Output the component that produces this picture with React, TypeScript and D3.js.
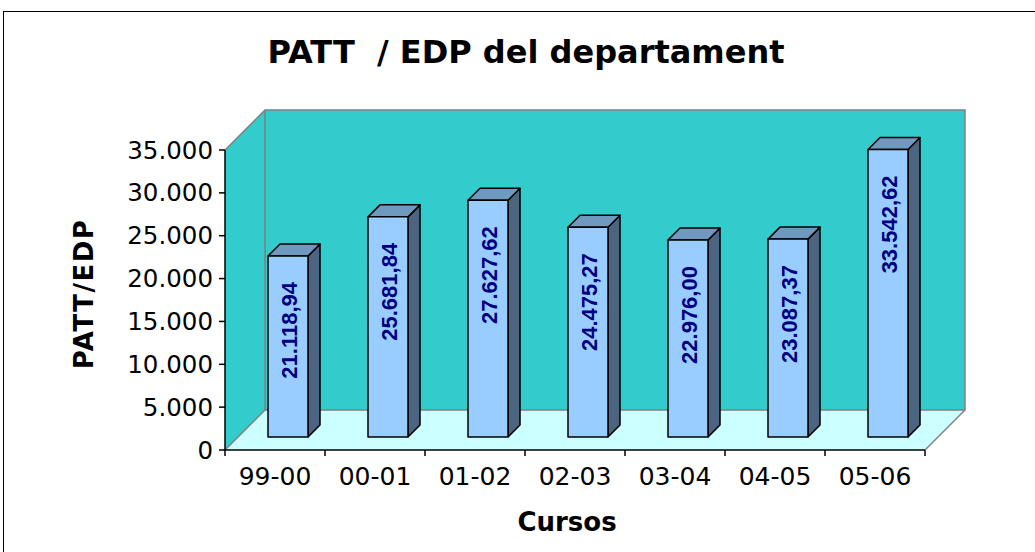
import React from "react";
import * as d3 from "d3";

const categories = ["99-00", "00-01", "01-02", "02-03", "03-04", "04-05", "05-06"];
const values = [21118.94, 25681.84, 27627.62, 24475.27, 22976.0, 23087.37, 33542.62];
const yTicks = [0, 5000, 10000, 15000, 20000, 25000, 30000, 35000];
const titleText = "PATT  / EDP del departament";
const yTitle = "PATT/EDP";
const xTitle = "Cursos";

const locale = d3.formatLocale({ decimal: ",", thousands: ".", grouping: [3], currency: ["", ""] });
const fmtTick = locale.format(",.0f");
const fmtVal = locale.format(",.2f");

export default function App() {
  const W = 1035, H = 552;
  const x0 = 225, x1 = 925, yBottom = 450, yTop = 150;
  const D = 40; // wall depth
  const barFront = 13, barDepth = 12, barW = 40;
  const x = d3.scaleBand<string>().domain(categories).range([x0, x1]);
  const y = d3.scaleLinear().domain([0, 35000]).range([yBottom, yTop]);
  const font = "'DejaVu Sans', Verdana, sans-serif";
  const gray = "#808080";

  return (
    <svg width={W} height={H} style={{ position: "absolute", left: 0, top: 0, background: "#fff" }}>
      <rect x={3.5} y={11.5} width={1040} height={560} fill="#fff" stroke="#000" strokeWidth={1} />
      <text x={526} y={63} textAnchor="middle" fontFamily={font} fontWeight="bold" fontSize={32} style={{ whiteSpace: "pre" }}>{titleText}</text>

      {/* walls */}
      <polygon points={`${x0 + D},${y(35000) - D} ${x1 + D},${y(35000) - D} ${x1 + D},${yBottom - D} ${x0 + D},${yBottom - D}`} fill="#33CCCC" />
      <polygon points={`${x0},${y(35000)} ${x0 + D},${y(35000) - D} ${x0 + D},${yBottom - D} ${x0},${yBottom}`} fill="#33CCCC" />
      <polygon points={`${x0},${yBottom} ${x0 + D},${yBottom - D} ${x1 + D},${yBottom - D} ${x1},${yBottom}`} fill="#CCFFFF" />
      <g stroke={gray} strokeWidth={1.5} fill="none">
        <polyline points={`${x0},${y(35000)} ${x0 + D},${y(35000) - D} ${x1 + D},${y(35000) - D} ${x1 + D},${yBottom - D} ${x1},${yBottom}`} />
        <line x1={x0 + D} y1={y(35000) - D} x2={x0 + D} y2={yBottom - D} />
        <polyline points={`${x0},${yBottom} ${x0 + D},${yBottom - D} ${x1 + D},${yBottom - D}`} />
      </g>

      {/* axes */}
      <line x1={x0} y1={yTop} x2={x0} y2={yBottom} stroke="#000" strokeWidth={1.5} />
      <line x1={x0} y1={yBottom} x2={x1} y2={yBottom} stroke="#000" strokeWidth={1.5} />
      {yTicks.map((t) => (
        <g key={t}>
          <line x1={x0 - 6} x2={x0} y1={y(t)} y2={y(t)} stroke="#000" strokeWidth={1.5} />
          <text x={213} y={y(t)} textAnchor="end" dominantBaseline="central" fontFamily={font} fontSize={24.5}>{fmtTick(t)}</text>
        </g>
      ))}
      {categories.map((c, i) => (
        <line key={"t" + i} x1={x(c)!} x2={x(c)!} y1={yBottom} y2={yBottom + 6} stroke="#000" strokeWidth={1.5} />
      ))}
      <line x1={x1} x2={x1} y1={yBottom} y2={yBottom + 6} stroke="#000" strokeWidth={1.5} />
      {categories.map((c) => (
        <text key={"l" + c} x={x(c)! + x.bandwidth() / 2} y={476} textAnchor="middle" dominantBaseline="central" fontFamily={font} fontSize={25}>{c}</text>
      ))}

      {/* bars */}
      {categories.map((c, i) => {
        const v = values[i];
        const fx = x(c)! + x.bandwidth() / 2 + barFront - barW / 2;
        const fb = yBottom - barFront;
        const ft = y(v) - barFront;
        const d = barDepth;
        return (
          <g key={"b" + c} stroke="#000" strokeWidth={1.5} strokeLinejoin="round">
            <polygon points={`${fx + barW},${ft} ${fx + barW + d},${ft - d} ${fx + barW + d},${fb - d} ${fx + barW},${fb}`} fill="#4D6480" />
            <polygon points={`${fx},${ft} ${fx + d},${ft - d} ${fx + barW + d},${ft - d} ${fx + barW},${ft}`} fill="#7099C0" />
            <rect x={fx} y={ft} width={barW} height={fb - ft} fill="#99CCFF" />
            <text
              transform={`translate(${fx + barW / 2 + 1},${ft + 26}) rotate(-90)`}
              textAnchor="end"
              dominantBaseline="central"
              fontFamily="'Liberation Sans', Arial, sans-serif"
              fontWeight="bold"
              fontSize={22}
              fill="#000080"
              stroke="none"
            >
              {fmtVal(v)}
            </text>
          </g>
        );
      })}

      <text transform={`translate(84,294) rotate(-90)`} textAnchor="middle" dominantBaseline="central" fontFamily={font} fontWeight="bold" fontSize={26} letterSpacing={1.5}>{yTitle}</text>
      <text x={567} y={522} textAnchor="middle" dominantBaseline="central" fontFamily={font} fontWeight="bold" fontSize={26}>{xTitle}</text>
    </svg>
  );
}
